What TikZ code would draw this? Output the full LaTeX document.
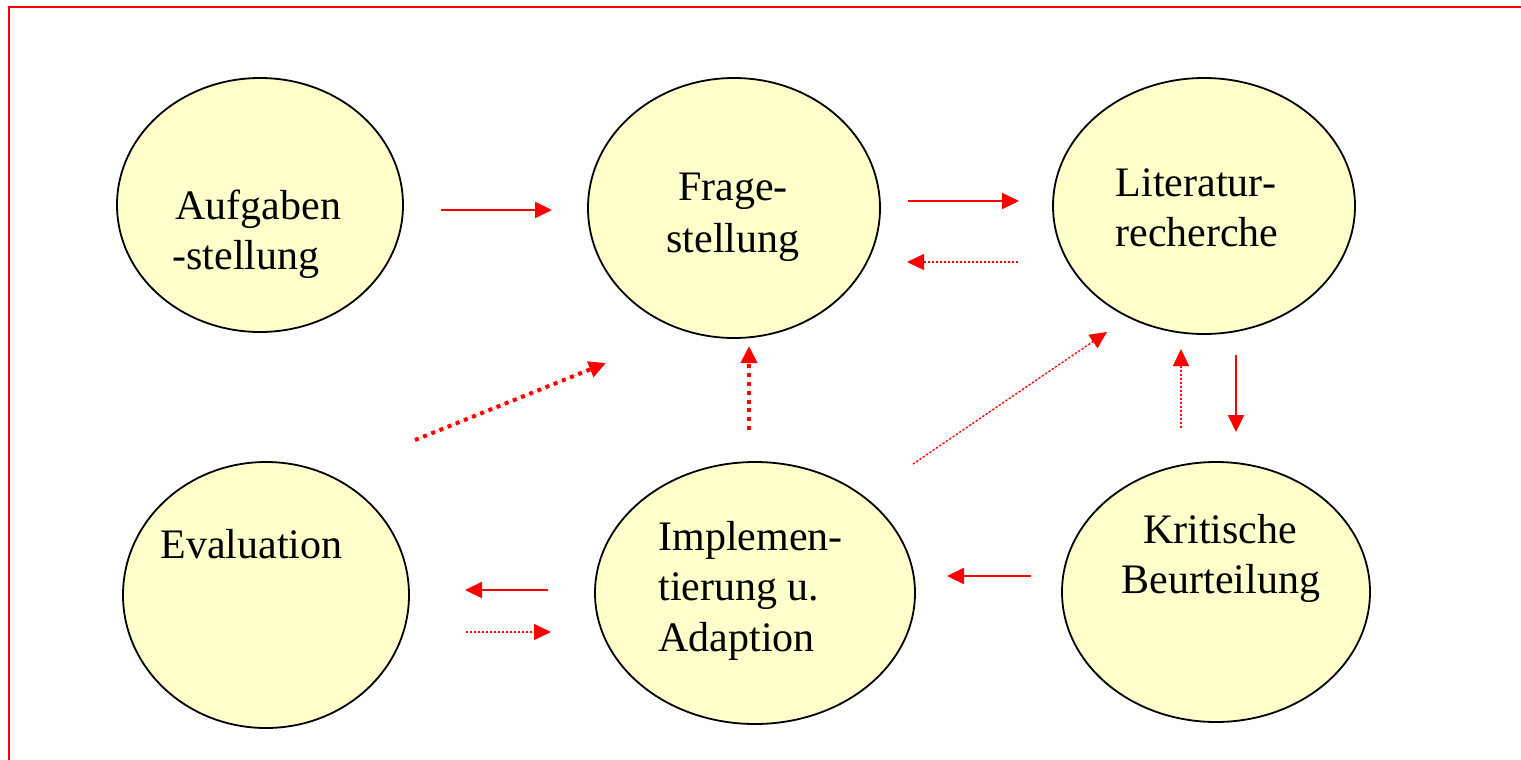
\documentclass[tikz,border=0pt]{standalone}
\usepackage{fontspec}
\setmainfont{Liberation Serif}
\usetikzlibrary{shapes.geometric,arrows.meta}
\definecolor{bubble}{RGB}{255,255,204}
\tikzset{
  bub/.style={ellipse, draw=black, line width=0.9pt, fill=bubble, inner sep=0pt},
  lbl/.style={inner sep=0pt, font=\fontsize{21}{25}\selectfont},
  tip/.style={-{Triangle[length=8.5pt,width=8pt]}},
  solidarr/.style={tip, draw=red, fill=red, line width=1.1pt},
  thickdot/.style={tip, draw=red, fill=red, line width=2pt, dash pattern=on 2pt off 2.4pt},
  thindot/.style={tip, draw=red, fill=red, line width=0.7pt, dash pattern=on 1pt off 1pt},
}
\begin{document}
\begin{tikzpicture}[x=0.5pt,y=-0.5pt]
\useasboundingbox (0,0) rectangle (1521,760);
\draw[red, line width=1.4pt] (9,760) -- (9,7) -- (1521,7);

% bubbles
\node[bub, minimum width=143pt, minimum height=127pt] (auf) at (260,205) {};
\node[bub, minimum width=146pt, minimum height=130pt] (fra) at (734,208) {};
\node[bub, minimum width=151pt, minimum height=128pt] (lit) at (1204,206) {};
\node[bub, minimum width=143pt, minimum height=133pt] (eva) at (266,595) {};
\node[bub, minimum width=160pt, minimum height=131pt] (imp) at (755,593) {};
\node[bub, minimum width=154pt, minimum height=130pt] (kri) at (1216,592) {};

% texts
\node[lbl, anchor=base west] (t1a) at (175,219) {Aufgaben};
\node[lbl, anchor=base west] (t1b) at (172,269) {-stellung};
\node[lbl, anchor=base] (t2a) at (733,200) {Frage-};
\node[lbl, anchor=base] (t2b) at (733,252) {stellung};
\node[lbl, anchor=base] (t3a) at (1196,196) {Literatur-};
\node[lbl, anchor=base] (t3b) at (1197,246) {recherche};
\node[lbl, anchor=base west] (t4) at (160,558) {Evaluation};
\node[lbl, anchor=base west] (t5a) at (658,550) {Implemen-};
\node[lbl, anchor=base west] (t5b) at (658,600) {tierung u.};
\node[lbl, anchor=base west] (t5c) at (658,651) {Adaption};
\node[lbl, anchor=base] (t6a) at (1220,543) {Kritische};
\node[lbl, anchor=base] (t6b) at (1221,593) {Beurteilung};

% arrow end points
\coordinate (a1s) at (441,210);  \coordinate (a1e) at (552,210);
\coordinate (a2s) at (908,201);  \coordinate (a2e) at (1019,201);
\coordinate (a3s) at (1018,262); \coordinate (a3e) at (907,262);
\coordinate (a4s) at (415,440);  \coordinate (a4e) at (606,363);
\coordinate (a5s) at (749,430);  \coordinate (a5e) at (749,346);
\coordinate (a6s) at (913,464);  \coordinate (a6e) at (1107,332);
\coordinate (a7s) at (1181,428); \coordinate (a7e) at (1181,349);
\coordinate (a8s) at (1236,355); \coordinate (a8e) at (1236,432);
\coordinate (a9s) at (1031,576); \coordinate (a9e) at (947,576);
\coordinate (a10s) at (548,590); \coordinate (a10e) at (465,590);
\coordinate (a11s) at (466,632); \coordinate (a11e) at (551,632);

\draw[solidarr] (a1s) -- (a1e);
\draw[solidarr] (a2s) -- (a2e);
\draw[thindot] (a3s) -- (a3e);
\draw[thickdot] (a4s) -- (a4e);
\draw[thickdot] (a5s) -- (a5e);
\draw[thindot] (a6s) -- (a6e);
\draw[thindot] (a7s) -- (a7e);
\draw[solidarr] (a8s) -- (a8e);
\draw[solidarr] (a9s) -- (a9e);
\draw[solidarr] (a10s) -- (a10e);
\draw[thindot] (a11s) -- (a11e);
\end{tikzpicture}
\end{document}
